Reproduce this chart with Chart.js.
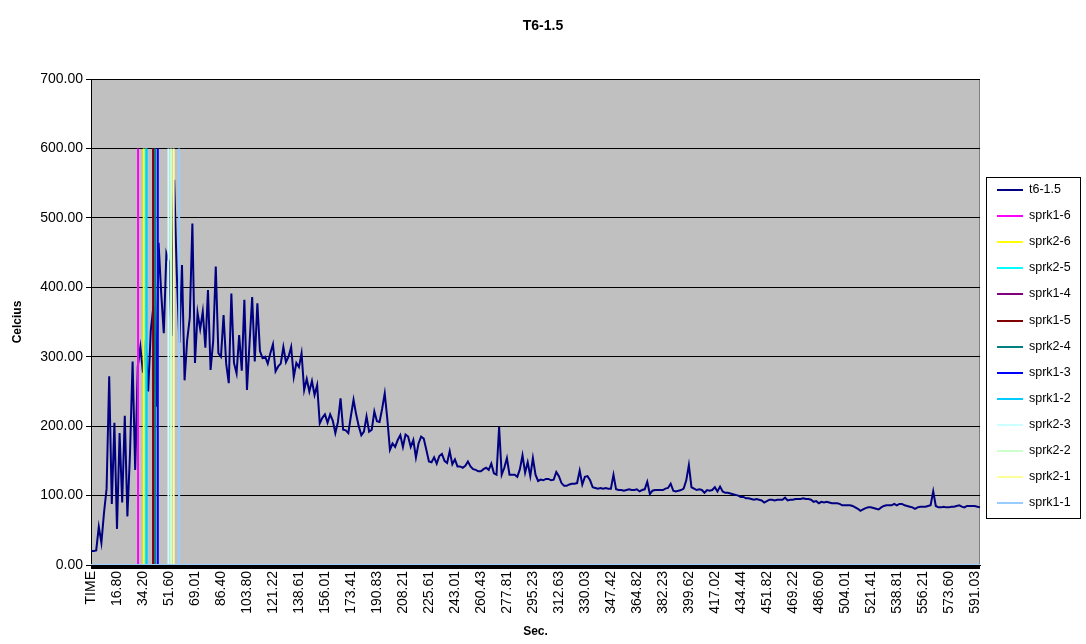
<!DOCTYPE html>
<html>
<head>
<meta charset="utf-8">
<script src="https://cdn.jsdelivr.net/npm/chart.js@4"></script>
<style>
  html, body { margin: 0; padding: 0; background: #ffffff; }
  #wrap { width: 1086px; height: 644px; }
</style>
</head>
<body>
<div id="wrap"><canvas id="TempChart"></canvas></div>
<script>
// tick labels shown on the time axis (one every 10 samples)
const tickLabels = [
    "TIME", "16.80", "34.20", "51.60", "69.01", "86.40", "103.80", "121.22", "138.61",
    "156.01", "173.41", "190.83", "208.21", "225.61", "243.01", "260.43", "277.81",
    "295.23", "312.63", "330.03", "347.42", "364.82", "382.23", "399.62", "417.02",
    "434.44", "451.82", "469.22", "486.60", "504.01", "521.41", "538.81", "556.21",
    "573.60", "591.03"
];

// t6-1.5 temperature readings (Celcius), one per sample
const t6Values = [
    20, 20, 21, 55, 32, 75, 110, 272, 88, 205,
    52, 190, 90, 215, 70, 160, 293, 137, 286, 314,
    277, 324, 250, 338, 372, 228, 464, 392, 334, 449,
    437, 330, 555, 420, 320, 432, 266, 324, 356, 492,
    291, 363, 340, 365, 313, 396, 281, 322, 430, 305,
    300, 360, 290, 262, 391, 291, 276, 331, 280, 382,
    252, 320, 386, 293, 377, 308, 298, 300, 290, 305,
    318, 279, 286, 290, 314, 292, 300, 314, 271, 291,
    285, 305, 252, 268, 250, 265, 245, 259, 204, 212,
    217, 205, 217, 208, 190, 206, 240, 195, 194, 190,
    215, 238, 217, 200, 187, 192, 214, 192, 195, 221,
    207, 206, 225, 247, 210, 166, 175, 170, 180, 187,
    170, 188, 185, 170, 180, 155, 175, 185, 182, 166,
    149, 148, 155, 146, 157, 160, 150, 147, 164, 145,
    152, 142, 142, 140, 143, 149, 142, 138, 137, 135,
    135, 138, 140, 137, 146, 132, 130, 199, 130, 140,
    154, 130, 130, 130, 127, 138, 158, 133, 148, 128,
    154, 130, 121, 123, 122, 124, 124, 122, 123, 134,
    128, 118, 114, 114, 116, 117, 117, 118, 136, 116,
    127, 128, 122, 112, 111, 110, 111, 110, 111, 110,
    110, 130, 109, 108, 108, 107, 108, 109, 108, 108,
    109, 106, 108, 109, 120, 102, 107, 108, 108, 108,
    108, 110, 111, 117, 107, 106, 107, 108, 110, 122,
    144, 112, 110, 108, 109, 108, 104, 108, 107, 108,
    112, 106, 113, 106, 104, 104, 103, 102, 101, 100,
    98, 98, 96, 96, 95, 94, 95, 94, 93, 90,
    92, 94, 94, 93, 94, 94, 94, 97, 93, 94,
    94, 95, 95, 95, 96, 95, 95, 94, 91, 92,
    89, 91, 90, 91, 90, 89, 89, 89, 88, 86,
    86, 86, 86, 85, 83, 81, 78, 80, 82, 83,
    83, 82, 81, 80, 83, 85, 86, 86, 86, 88,
    86, 88, 88, 86, 85, 84, 83, 81, 83, 84,
    84, 84, 85, 86, 106, 85, 83, 83, 84, 83,
    83, 84, 84, 85, 86, 84, 83, 85, 85, 85,
    85, 84, 83
];

// sprinkler activation markers: name, colour, sample position, marker height
const sprkNames = ["sprk1-6", "sprk2-6", "sprk2-5", "sprk1-4", "sprk1-5", "sprk2-4",
                   "sprk1-3", "sprk1-2", "sprk2-3", "sprk2-2", "sprk2-1", "sprk1-1"];
const sprkColors = ["#FF00FF", "#FFFF00", "#00FFFF", "#800080", "#800000", "#008080",
                    "#0000FF", "#00CCFF", "#CCFFFF", "#CCFFCC", "#FFFF99", "#99CCFF"];
const sprkIndex = [18.1, 20.3, 21.1, 23.9, 24.0, 24.7, 25.7, 21.4, 29.8, 30.8, 31.8, 33.9];
const sprkTop = 600;

const categories = [];
tickLabels.forEach(label => {
    categories.push(label);
    for (let k = 1; k < 10; k++) categories.push("");
});
categories.length = t6Values.length;
const lastIndex = t6Values.length - 1;

const FONT = "'Liberation Sans', Arial, sans-serif";
Chart.defaults.font.family = FONT;
Chart.defaults.color = "#000";

const datasets = [{
    label: "t6-1.5",
    data: t6Values,
    borderColor: "#000080",
    borderWidth: 2,
    pointRadius: 0,
    tension: 0,
    order: 13,
    xAxisID: "x"
}];
sprkNames.forEach((name, k) => {
    const p = sprkIndex[k];
    datasets.push({
        label: name,
        data: [{x: 0, y: 0}, {x: p, y: 0}, {x: p, y: sprkTop}, {x: p, y: 0}, {x: lastIndex, y: 0}],
        borderColor: sprkColors[k],
        borderWidth: 2,
        pointRadius: 0,
        tension: 0,
        order: 12 - k,
        xAxisID: "x2"
    });
});

// grey plot area like the spreadsheet default, heavy black category axis
const plotBackground = {
    id: "plotBackground",
    beforeDraw(chart) {
        const {ctx, chartArea: a} = chart;
        ctx.save();
        ctx.fillStyle = "#ffffff";
        ctx.fillRect(0, 0, chart.width, chart.height);
        ctx.fillStyle = "#C0C0C0";
        ctx.fillRect(a.left, a.top, a.right - a.left, a.bottom - a.top);
        ctx.strokeStyle = "#808080";
        ctx.lineWidth = 1;
        ctx.strokeRect(a.left + 0.5, a.top + 0.5, a.right - a.left - 1, a.bottom - a.top - 1);
        ctx.restore();
    },
    afterDatasetsDraw(chart) {
        const {ctx, chartArea: a} = chart;
        ctx.save();
        ctx.fillStyle = "#000";
        ctx.fillRect(a.left, a.bottom, a.right - a.left, 4);
        ctx.restore();
    }
};

// boxed legend on the right
const boxLegend = {
    id: "boxLegend",
    afterDraw(chart) {
        const ctx = chart.ctx;
        ctx.save();
        ctx.fillStyle = "#ffffff";
        ctx.fillRect(986.5, 177.5, 94, 341);
        ctx.strokeStyle = "#000";
        ctx.lineWidth = 1;
        ctx.strokeRect(986.5, 177.5, 94, 341);
        ctx.font = "12.5px " + FONT;
        ctx.textBaseline = "middle";
        ctx.textAlign = "left";
        chart.data.datasets.forEach((ds, k) => {
            const y = Math.round(190 + k * 26.1);
            ctx.strokeStyle = ds.borderColor;
            ctx.lineWidth = 2;
            ctx.beginPath();
            ctx.moveTo(997, y);
            ctx.lineTo(1023, y);
            ctx.stroke();
            ctx.fillStyle = "#000";
            ctx.fillText(ds.label, 1029, y);
        });
        ctx.restore();
    }
};

const chart_context = document.getElementById("TempChart").getContext("2d");
new Chart(chart_context, {
    type: "line",
    data: {
        labels: categories,
        datasets: datasets
    },
    plugins: [plotBackground, boxLegend],
    options: {
        responsive: true,
        maintainAspectRatio: false,
        animation: false,
        devicePixelRatio: 1,
        layout: { padding: 0 },
        plugins: {
            legend: { display: false },
            tooltip: { enabled: false },
            title: {
                display: true,
                text: "T6-1.5",
                color: "#000",
                font: { size: 14, weight: "bold" },
                padding: { top: 18, bottom: 44.2 }
            }
        },
        scales: {
            x: {
                type: "category",
                offset: false,
                grid: { display: false, drawTicks: false },
                border: { display: true, color: "#000", width: 1 },
                ticks: {
                    autoSkip: false,
                    minRotation: 90,
                    maxRotation: 90,
                    padding: 6,
                    color: "#000",
                    font: { size: 14 }
                },
                title: {
                    display: true,
                    text: "Sec.",
                    color: "#000",
                    font: { size: 12, weight: "bold" },
                    padding: { top: 0, bottom: 5 }
                },
                afterFit(scale) { scale.height = 79; }
            },
            x2: {
                type: "linear",
                display: false,
                min: 0,
                max: lastIndex
            },
            y: {
                min: 0,
                max: 700,
                grid: { color: "#000", lineWidth: 1, drawTicks: true, tickLength: 5 },
                border: { display: true, color: "#000", width: 1 },
                ticks: {
                    stepSize: 100,
                    padding: 3,
                    color: "#000",
                    font: { size: 14 },
                    callback: v => v.toFixed(2)
                },
                title: {
                    display: true,
                    text: "Celcius",
                    color: "#000",
                    font: { size: 12, weight: "bold" },
                    padding: { top: 10, bottom: 0 }
                },
                afterFit(scale) { scale.width = 91; }
            },
            // empty right-hand axis that only reserves room for the legend box
            yLegend: {
                position: "right",
                display: true,
                grid: { display: false, drawTicks: false },
                border: { display: false },
                ticks: { display: false },
                afterFit(scale) { scale.width = 106; }
            }
        }
    }
});
</script>
</body>
</html>
